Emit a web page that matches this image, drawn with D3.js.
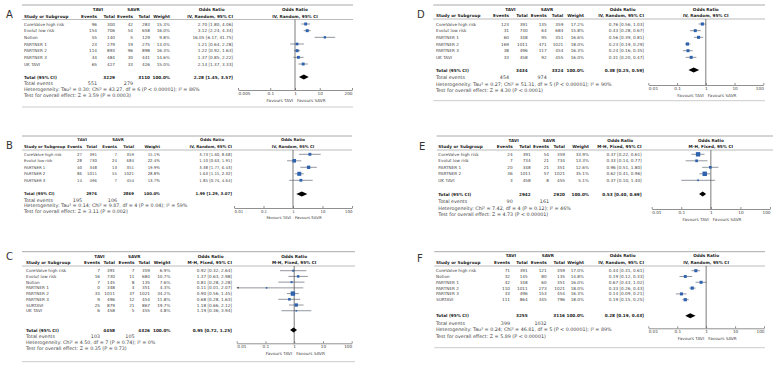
<!DOCTYPE html>
<html>
<head>
<meta charset="utf-8">
<script src="https://cdn.jsdelivr.net/npm/d3@7"></script>
<style>
  body { margin: 0; background: #fff; }
  text { font-family: "DejaVu Sans", Verdana, sans-serif; }
</style>
</head>
<body>
<div id="chart"></div>
<script>
// Study rows: name, TAVI events, TAVI total, SAVR events, SAVR total, weight %, OR, CI low, CI high
const rowsA = [
    ['CoreValve high risk', 96, 300, 42, 283, 15.3, 2.70, 1.80, 4.06],
    ['Evolut low risk', 154, 706, 54, 658, 16.0, 3.12, 2.24, 4.34],
    ['Notion', 55, 140, 5, 129, 9.8, 16.05, 6.17, 41.75],
    ['PARTNER 1', 23, 279, 19, 275, 13.0, 1.21, 0.64, 2.28],
    ['PARTNER 2', 114, 893, 96, 898, 16.3, 1.22, 0.92, 1.63],
    ['PARTNER 3', 44, 484, 30, 441, 14.6, 1.37, 0.85, 2.22],
    ['UK TAVI', 65, 427, 33, 426, 15.0, 2.14, 1.37, 3.33]
];
const rowsB = [
    ['CoreValve high risk', 27, 391, 7, 359, 15.1, 3.73, 1.60, 8.68],
    ['Evolut low risk', 28, 730, 24, 684, 22.4, 1.10, 0.63, 1.91],
    ['PARTNER 1', 40, 348, 13, 351, 19.9, 3.38, 1.77, 6.43],
    ['PARTNER 2', 86, 1011, 55, 1021, 28.8, 1.63, 1.15, 2.32],
    ['PARTNER 3', 14, 496, 7, 454, 13.7, 1.85, 0.74, 4.64]
];
const rowsC = [
    ['CoreValve high risk', 7, 391, 7, 359, 6.9, 0.92, 0.32, 2.64],
    ['Evolut low risk', 16, 730, 11, 684, 10.7, 1.37, 0.63, 2.98],
    ['Notion', 7, 145, 8, 135, 7.6, 0.81, 0.28, 2.28],
    ['PARTNER 1', 0, 348, 4, 351, 4.3, 0.11, 0.01, 2.07],
    ['PARTNER 2', 33, 1011, 37, 1021, 34.2, 0.90, 0.56, 1.45],
    ['PARTNER 3', 9, 496, 12, 454, 11.8, 0.68, 0.28, 1.63],
    ['SURTAVI', 25, 879, 21, 867, 19.7, 1.18, 0.66, 2.12],
    ['UK TAVI', 6, 458, 5, 455, 4.8, 1.19, 0.36, 3.94]
];
const rowsD = [
    ['CoreValve high risk', 123, 391, 135, 359, 17.2, 0.76, 0.56, 1.03],
    ['Evolut low risk', 31, 730, 64, 684, 15.8, 0.43, 0.28, 0.67],
    ['PARTNER 1', 60, 348, 95, 351, 16.6, 0.56, 0.39, 0.81],
    ['PARTNER 2', 169, 1011, 471, 1021, 18.0, 0.23, 0.19, 0.29],
    ['PARTNER 3', 38, 496, 117, 454, 16.3, 0.24, 0.16, 0.35],
    ['UK TAVI', 33, 458, 92, 455, 16.0, 0.31, 0.20, 0.47]
];
const rowsE = [
    ['CoreValve high risk', 24, 391, 54, 359, 33.9, 0.37, 0.22, 0.61],
    ['Evolut low risk', 7, 734, 21, 734, 13.3, 0.33, 0.14, 0.77],
    ['PARTNER 1', 20, 348, 21, 351, 12.6, 0.96, 0.51, 1.80],
    ['PARTNER 2', 36, 1011, 57, 1021, 35.1, 0.62, 0.41, 0.96],
    ['UK TAVI', 3, 458, 8, 455, 5.1, 0.37, 0.10, 1.40]
];
const rowsF = [
    ['CoreValve high risk', 71, 391, 121, 359, 17.0, 0.44, 0.31, 0.61],
    ['Notion', 32, 145, 80, 135, 14.8, 0.19, 0.12, 0.33],
    ['PARTNER 1', 42, 348, 60, 351, 16.0, 0.67, 0.43, 1.02],
    ['PARTNER 2', 110, 1011, 273, 1021, 18.0, 0.33, 0.26, 0.43],
    ['PARTNER 3', 33, 496, 153, 454, 16.3, 0.14, 0.09, 0.21],
    ['SURTAVI', 111, 864, 345, 796, 18.0, 0.19, 0.15, 0.25]
];

// Totals: TAVI total, SAVR total, OR, CI low, CI high
const totalA = [3229, 3110, 2.28, 1.45, 3.57];
const totalB = [2976, 2869, 1.99, 1.29, 3.07];
const totalC = [4458, 4326, 0.95, 0.72, 1.25];
const totalD = [3434, 3324, 0.38, 0.25, 0.59];
const totalE = [2942, 2920, 0.53, 0.40, 0.69];
const totalF = [3255, 3116, 0.28, 0.19, 0.43];

// Total events: TAVI, SAVR
const eventsA = [551, 279];
const eventsB = [195, 106];
const eventsC = [103, 105];
const eventsD = [454, 974];
const eventsE = [90, 161];
const eventsF = [399, 1032];

const hetA = 'Heterogeneity: Tau² = 0.30; Chi² = 43.27, df = 6 (P < 0.00001); I² = 86%';
const hetB = 'Heterogeneity: Tau² = 0.14; Chi² = 9.87, df = 4 (P = 0.04); I² = 59%';
const hetC = 'Heterogeneity: Chi² = 4.50, df = 7 (P = 0.74); I² = 0%';
const hetD = 'Heterogeneity: Tau² = 0.27; Chi² = 51.31, df = 5 (P < 0.00001); I² = 90%';
const hetE = 'Heterogeneity: Chi² = 7.42, df = 4 (P = 0.12); I² = 46%';
const hetF = 'Heterogeneity: Tau² = 0.24; Chi² = 46.81, df = 5 (P < 0.00001); I² = 89%';

const testA = 'Test for overall effect: Z = 3.59 (P = 0.0003)';
const testB = 'Test for overall effect: Z = 3.11 (P = 0.002)';
const testC = 'Test for overall effect: Z = 0.35 (P = 0.73)';
const testD = 'Test for overall effect: Z = 4.30 (P < 0.0001)';
const testE = 'Test for overall effect: Z = 4.73 (P < 0.00001)';
const testF = 'Test for overall effect: Z = 5.89 (P < 0.00001)';

const ticksA = [0.005, 0.1, 1, 10, 200];
const ticksStd = [0.01, 0.1, 1, 10, 100];

const random = 'IV, Random, 95% CI';
const fixed = 'M-H, Fixed, 95% CI';

// Panel layout (pixel positions)
const panels = [
    { id: 'A', rows: rowsA, total: totalA, events: eventsA, het: hetA, test: testA, ticks: ticksA, method: random, fs: 4.2,
      letter: [6, 18], x0: 22, x1: 353, yTop: 5, yH1: 9.5, yH2: 16, yRule: 19.5, row0: 24, step: 6.67,
      yTotal: 77, yEv: 83, yHet: 89, yTest: 95, yBot: 107,
      cols: { name: 24, tEv: 97, tTot: 115, sEv: 133, sTot: 150, wt: 170, ci: 233 }, plot: [238, 352], axisY: 90 },
    { id: 'B', rows: rowsB, total: totalB, events: eventsB, het: hetB, test: testB, ticks: ticksStd, method: random, fs: 3.9,
      letter: [6, 149], x0: 22, x1: 352, yTop: 136, yH1: 140, yH2: 146.5, yRule: 150, row0: 154.3, step: 6.5,
      yTotal: 194, yEv: 200, yHet: 205.5, yTest: 211, yBot: null,
      cols: { name: 24, tEv: 82, tTot: 97, sEv: 117, sTot: 134, wt: 160, ci: 232 }, plot: [234, 352], axisY: 208 },
    { id: 'C', rows: rowsC, total: totalC, events: eventsC, het: hetC, test: testC, ticks: ticksStd, method: fixed, fs: 4.2,
      letter: [6, 260], x0: 22, x1: 355, yTop: 251.7, yH1: 256, yH2: 262.7, yRule: 266, row0: 270.7, step: 5.72,
      yTotal: 330, yEv: 336.3, yHet: 342, yTest: 348, yBot: 361.7,
      cols: { name: 26, tEv: 100, tTot: 115, sEv: 134.5, sTot: 150, wt: 170.5, ci: 232 }, plot: [236.7, 351.7], axisY: 343.3 },
    { id: 'D', rows: rowsD, total: totalD, events: eventsD, het: hetD, test: testD, ticks: ticksStd, method: random, fs: 4.2,
      letter: [417, 18], x0: 433.3, x1: 765, yTop: 5, yH1: 9.3, yH2: 15.7, yRule: 19, row0: 24, step: 6.67,
      yTotal: 70, yEv: 77.3, yHet: 84, yTest: 90.7, yBot: 100.7,
      cols: { name: 436, tEv: 509, tTot: 527.7, sEv: 546.7, sTot: 563.3, wt: 584, ci: 644 }, plot: [648.3, 763.3], axisY: 85 },
    { id: 'E', rows: rowsE, total: totalE, events: eventsE, het: hetE, test: testE, ticks: ticksStd, method: fixed, fs: 4.2,
      letter: [419, 150], x0: 436.7, x1: 773, yTop: 136, yH1: 140, yH2: 146.7, yRule: 150, row0: 154.3, step: 6.5,
      yTotal: 194, yEv: 201.3, yHet: 208, yTest: 214, yBot: null,
      cols: { name: 438.3, tEv: 512.7, tTot: 530.7, sEv: 549, sTot: 565, wt: 589, ci: 641.7 }, plot: [651.7, 770], axisY: 209 },
    { id: 'F', rows: rowsF, total: totalF, events: eventsF, het: hetF, test: testF, ticks: ticksStd, method: random, fs: 4.2,
      letter: [417, 262], x0: 434.3, x1: 765, yTop: 251.7, yH1: 255.7, yH2: 262.7, yRule: 266, row0: 270.7, step: 5.8,
      yTotal: 315.7, yEv: 323.3, yHet: 329.3, yTest: 336.7, yBot: 347.7,
      cols: { name: 436, tEv: 510, tTot: 527.7, sEv: 546.7, sTot: 565, wt: 584, ci: 644 }, plot: [648.3, 764], axisY: 328.3 }
];

const footFs = 4.8;
const ciText = (o, l, h) => `${o.toFixed(2)} [${l.toFixed(2)}, ${h.toFixed(2)}]`;

const svg = d3.select('#chart')
    .append('svg')
    .attr('width', 775)
    .attr('height', 368);

panels.forEach(drawPanel);

function drawPanel(p) {
    const g = svg.append('g').attr('class', 'panel-' + p.id);
    const c = p.cols;
    const fs = p.fs;

    const txt = (x, y, s, anchor, bold, size) => g.append('text')
        .attr('x', x)
        .attr('y', y)
        .attr('dy', '0.36em')
        .attr('font-size', size || fs)
        .attr('text-anchor', anchor || 'start')
        .attr('font-weight', bold ? 'bold' : 'normal')
        .style('fill', bold ? '#222' : '#444')
        .text(s);

    // panel letter
    g.append('text')
        .attr('x', p.letter[0])
        .attr('y', p.letter[1])
        .attr('font-size', 10)
        .style('fill', '#333')
        .text(p.id);

    // rules
    g.append('line')
        .attr('x1', p.x0).attr('x2', p.x1)
        .attr('y1', p.yTop).attr('y2', p.yTop)
        .style('stroke', '#aaa').style('stroke-width', 1);
    g.append('line')
        .attr('x1', p.x0).attr('x2', p.x1)
        .attr('y1', p.yRule).attr('y2', p.yRule)
        .style('stroke', '#777').style('stroke-width', 0.5);
    if (p.yBot !== null) {
        g.append('line')
            .attr('x1', p.x0).attr('x2', p.x1)
            .attr('y1', p.yBot).attr('y2', p.yBot)
            .style('stroke', '#ccc').style('stroke-width', 1);
    }

    const xScale = d3.scaleLog()
        .domain([p.ticks[0], p.ticks[p.ticks.length - 1]])
        .range(p.plot);
    const x1 = xScale(1);
    const evW = 3.8 * fs;

    // headers
    txt((c.tEv - evW + c.tTot) / 2, p.yH1, 'TAVI', 'middle', true);
    txt((c.sEv - evW + c.sTot) / 2, p.yH1, 'SAVR', 'middle', true);
    txt(c.ci - 5.1 * fs, p.yH1, 'Odds Ratio', 'middle', true);
    txt(x1, p.yH1, 'Odds Ratio', 'middle', true);
    txt(c.name, p.yH2, 'Study or Subgroup', 'start', true);
    txt(c.tEv, p.yH2, 'Events', 'end', true);
    txt(c.tTot, p.yH2, 'Total', 'end', true);
    txt(c.sEv, p.yH2, 'Events', 'end', true);
    txt(c.sTot, p.yH2, 'Total', 'end', true);
    txt(c.wt, p.yH2, 'Weight', 'end', true);
    txt(c.ci, p.yH2, p.method, 'end', true);
    txt(x1, p.yH2, p.method, 'middle', true);

    // study rows
    p.rows.forEach((r, i) => {
        const y = p.row0 + i * p.step;
        txt(c.name, y, r[0]);
        txt(c.tEv, y, r[1], 'end');
        txt(c.tTot, y, r[2], 'end');
        txt(c.sEv, y, r[3], 'end');
        txt(c.sTot, y, r[4], 'end');
        txt(c.wt, y, r[5].toFixed(1) + '%', 'end');
        txt(c.ci, y, ciText(r[6], r[7], r[8]), 'end');
    });

    // total rows
    const t = p.total;
    txt(c.name, p.yTotal, 'Total (95% CI)', 'start', true);
    txt(c.tTot, p.yTotal, t[0], 'end', true);
    txt(c.sTot, p.yTotal, t[1], 'end', true);
    txt(c.wt, p.yTotal, '100.0%', 'end', true);
    txt(c.ci, p.yTotal, ciText(t[2], t[3], t[4]), 'end', true);
    txt(c.name, p.yEv, 'Total events', 'start', false, footFs);
    txt(c.tEv, p.yEv, p.events[0], 'end', false, footFs);
    txt(c.sEv, p.yEv, p.events[1], 'end', false, footFs);
    txt(c.name, p.yHet, p.het, 'start', false, footFs);
    txt(c.name, p.yTest, p.test, 'start', false, footFs);

    // line of no effect
    g.append('line')
        .attr('x1', x1).attr('x2', x1)
        .attr('y1', p.yRule).attr('y2', p.axisY)
        .style('stroke', '#222').style('stroke-width', 0.6);

    // confidence intervals and squares
    const dMin = xScale.domain()[0];
    p.rows.forEach((r, i) => {
        const y = p.row0 + i * p.step;
        const lo = Math.max(r[7], dMin);
        g.append('line')
            .attr('x1', xScale(lo)).attr('x2', xScale(r[8]))
            .attr('y1', y).attr('y2', y)
            .style('stroke', '#4a4f5c').style('stroke-width', 0.6);
        if (r[7] <= dMin) {
            const xa = xScale(dMin);
            g.append('path')
                .attr('d', `M${xa},${y}l2,-1v2z`)
                .style('fill', '#333');
        }
        const s = 0.75 * Math.sqrt(r[5]);
        g.append('rect')
            .attr('x', xScale(r[6]) - s / 2)
            .attr('y', y - s / 2)
            .attr('width', s)
            .attr('height', s)
            .style('fill', '#2f62ad');
    });

    // pooled diamond
    const dh = 2.5;
    g.append('path')
        .attr('d', `M${xScale(t[3])},${p.yTotal}L${xScale(t[2])},${p.yTotal - dh}L${xScale(t[4])},${p.yTotal}L${xScale(t[2])},${p.yTotal + dh}Z`)
        .style('fill', '#000');

    // axis
    const axis = g.append('g')
        .attr('transform', `translate(0,${p.axisY})`)
        .call(d3.axisBottom(xScale)
            .tickValues(p.ticks)
            .tickFormat(d => String(d))
            .tickSizeInner(-2)
            .tickSizeOuter(0)
            .tickPadding(2.2));
    axis.select('.domain').style('stroke', '#444').style('stroke-width', 0.6);
    axis.selectAll('.tick line').style('stroke', '#444').style('stroke-width', 0.6);
    axis.selectAll('.tick text')
        .attr('font-size', fs)
        .attr('font-family', '"DejaVu Sans", Verdana, sans-serif')
        .style('fill', '#444')
        .attr('text-anchor', (d, i) => i === 0 ? 'start' : (i === p.ticks.length - 1 ? 'end' : 'middle'));

    txt(x1 - 2, p.axisY + 10, 'Favours TAVI', 'end');
    txt(x1 + 2, p.axisY + 10, 'Favours SAVR', 'start');
}
</script>
</body>
</html>
